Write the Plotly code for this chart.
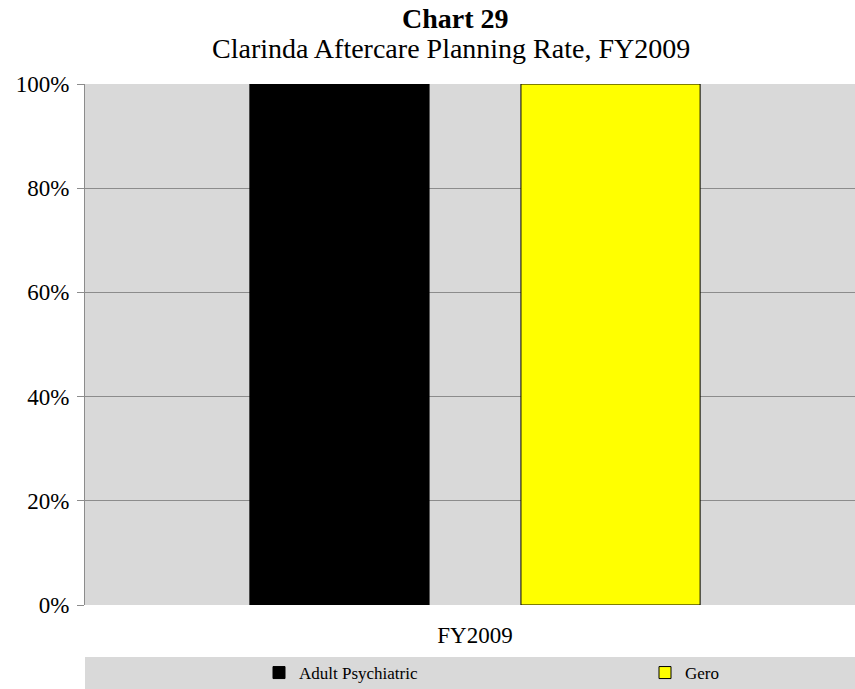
import plotly.graph_objects as go

categories = ["FY2009"]
series_names = ["Adult Psychiatric", "Gero"]
series_values = [[1.00], [1.00]]
series_colors = ["#000000", "#FFFF00"]
y_ticks = [0, 0.2, 0.4, 0.6, 0.8, 1.0]
y_tick_labels = ["0%", "20%", "40%", "60%", "80%", "100%"]

SERIF = "Liberation Serif, Times New Roman, serif"

fig = go.Figure()
for name, vals, color in zip(series_names, series_values, series_colors):
    fig.add_trace(go.Bar(
        x=categories, y=vals, name=name,
        marker=dict(color=color, line=dict(color="#000000", width=1)),
    ))

fig.update_layout(
    width=855, height=689,
    margin=dict(l=85, r=0, t=84, b=84, autoexpand=False),
    paper_bgcolor="white",
    plot_bgcolor="#D9D9D9",
    barmode="group",
    bargap=0.305,
    bargroupgap=0.339,
    font=dict(family=SERIF, color="#000000"),
    showlegend=True,
    legend=dict(
        orientation="h",
        xref="container", x=259 / 855, xanchor="left",
        yref="container", y=16 / 689, yanchor="middle",
        bgcolor="rgba(0,0,0,0)",
        font=dict(family=SERIF, size=17, color="#000000"),
        itemwidth=30,
        entrywidth=341,
        traceorder="normal",
    ),
    shapes=[dict(
        type="rect", xref="paper", yref="paper",
        x0=0, x1=1, y0=-84 / 521, y1=-52 / 521,
        fillcolor="#D9D9D9", line=dict(width=0), layer="below",
    )],
    annotations=[
        dict(text="<b>Chart 29</b>", xref="paper", yref="paper",
             x=(455 - 85) / 770, y=(605 - 18) / 521, xanchor="center", yanchor="middle",
             showarrow=False, font=dict(family=SERIF, size=28, color="#000000")),
        dict(text="Clarinda Aftercare Planning Rate, FY2009", xref="paper", yref="paper",
             x=(451 - 85) / 770, y=(605 - 49) / 521, xanchor="center", yanchor="middle",
             showarrow=False, font=dict(family=SERIF, size=28, color="#000000")),
    ],
)

fig.update_xaxes(
    range=[-0.5, -0.5 + 770 / 780],
    showgrid=False, showline=False, ticks="",
    tickfont=dict(family=SERIF, size=23, color="#000000"),
    ticklabelstandoff=14,
)
fig.update_yaxes(
    range=[0, 1.0], tickvals=y_ticks, ticktext=y_tick_labels,
    showgrid=True, gridcolor="#8C8C8C", gridwidth=1,
    showline=True, linecolor="#8C8C8C", linewidth=1,
    ticks="outside", ticklen=7, tickcolor="#8C8C8C",
    tickfont=dict(family=SERIF, size=23, color="#000000"),
    ticklabelstandoff=3,
    zeroline=False,
)

fig.write_html("out.html")
